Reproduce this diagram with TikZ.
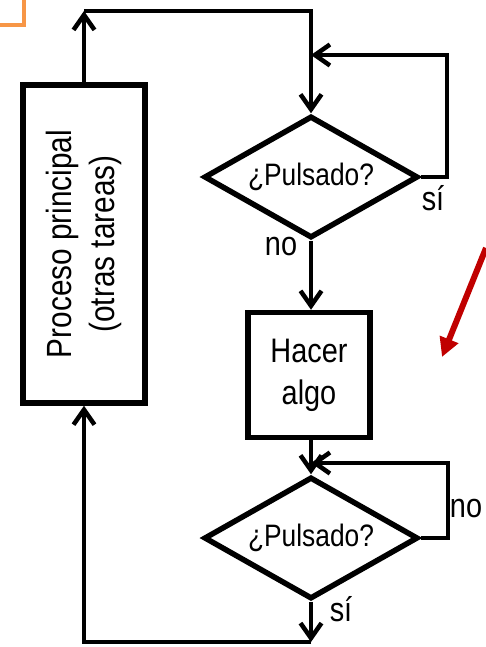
\documentclass[tikz,border=0pt]{standalone}
\usepackage{fontspec}
\setmainfont{Liberation Sans}[FakeStretch=0.85]
\usetikzlibrary{shapes.geometric,arrows.meta}

\definecolor{alertred}{HTML}{C00000}
\definecolor{framegold}{HTML}{F79646}

\tikzset{
    procbox/.style={draw,line width=5.5pt,rectangle,inner sep=0pt,align=center},
    decision/.style={draw,line width=5.5pt,diamond,aspect=1.75,inner sep=0pt,
        minimum width=214pt,minimum height=122pt,font=\fontsize{31}{36}\selectfont},
    flow/.style={line width=4.5pt,-{Straight Barb[length=15pt,width=21pt]}},
    lbl/.style={font=\fontsize{34}{40}\selectfont,inner sep=0pt}
}

\begin{document}
\begin{tikzpicture}[x=1pt,y=-1pt]
        \useasboundingbox (0,0) rectangle (486,647);
        % corner of the slide frame
        \draw[framegold,line width=4pt] (0,25) -- (24,25) -- (24,0);

        % blocks (proc is turned, so its east side is the top)
        \node[procbox,rotate=90,minimum width=318pt,minimum height=122pt,
              font=\fontsize{35}{43}\selectfont] (proc) at (84,244) {Proceso principal\\(otras tareas)};
        \node[decision] (ask1) at (311,177) {¿Pulsado?};
        \node[procbox,minimum width=122pt,minimum height=125pt,
              font=\fontsize{34}{42}\selectfont] (act) at (309,375) {Hacer\\algo};
        \node[decision] (ask2) at (311,538) {¿Pulsado?};

        \coordinate (top) at (84,11);
        \coordinate (loopa) at (447,55);
        \coordinate (loopb) at (448,463);
        \coordinate (bot) at (311,642);

        % connectors
        \draw[flow] (proc.east) -- (top);
        \draw[flow] (top) -| (ask1.north);
        \draw[flow] (ask1.east) -| (loopa) -- (ask1.north |- loopa);
        \draw[flow] (ask1.south) -- (ask1.south |- act.north);
        \draw[flow] (ask1.south |- act.south) -- (ask2.north);
        \draw[flow] (ask2.east) -| (loopb) -- (ask2.north |- loopb);
        \draw[flow] (ask2.south) -- (bot);
        \draw[flow] (bot) -| (proc.west);

        % branch labels
        \node[lbl] (si1) at (433,198) {sí};
        \node[lbl] (no1) at (281,247) {no};
        \node[lbl] (no2) at (466,509) {no};
        \node[lbl] (si2) at (341,609) {sí};

        % red pointer
        \coordinate (ptr) at (486,248);
        \coordinate (ptrtip) at (442,357);
        \draw[alertred,line width=6pt,-{Triangle[length=19pt,width=19pt]}] (ptr) -- (ptrtip);
    \end{tikzpicture}
\end{document}
